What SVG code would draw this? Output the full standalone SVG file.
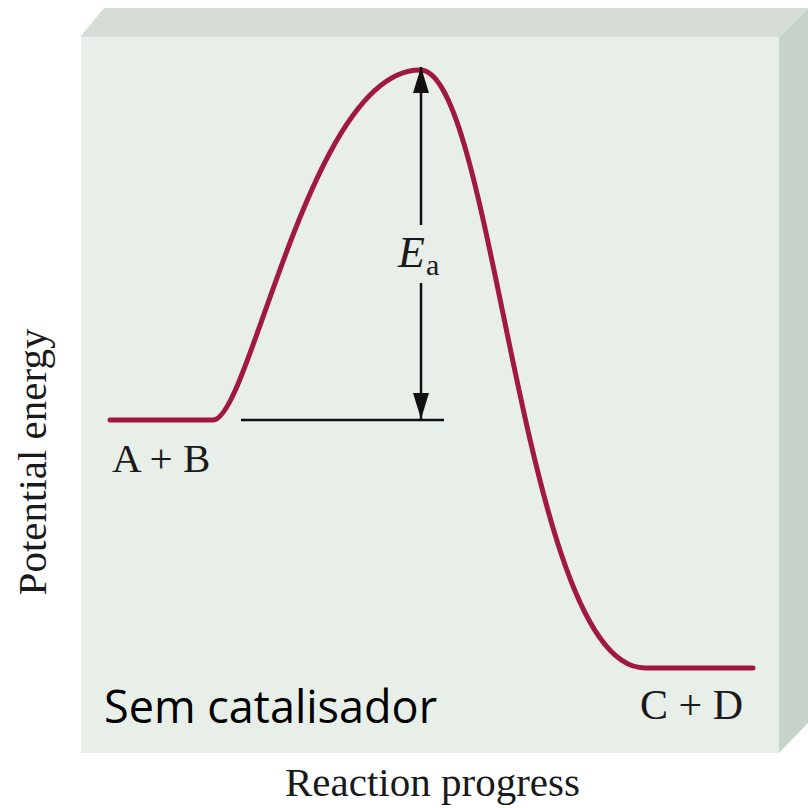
<svg xmlns="http://www.w3.org/2000/svg" width="808" height="808" viewBox="0 0 808 808">
<style>
.serif{font-family:"Liberation Serif","Times New Roman",serif;fill:#1a1a1a}
.sans{font-family:"Open Sans","Liberation Sans",sans-serif;fill:#000}
.curve{fill:none;stroke:#a0193f;stroke-width:5;stroke-linecap:round;stroke-linejoin:round}
.ln{stroke:#111;stroke-width:2.5;fill:none}
</style>
<defs>
<marker id="ahb" viewBox="0 0 26 16" refX="26" refY="8" markerWidth="26" markerHeight="16" markerUnits="userSpaceOnUse" orient="auto">
<path d="M0,0 L26,8 L0,16 Z" fill="#111"/>
</marker>
</defs>
<rect width="808" height="808" fill="#ffffff"/>
<g id="box">
<polygon points="80,37 104,8 808,8 779,37" fill="#d6ddd6"/>
<polygon points="779,37 808,8 808,723 779,753" fill="#c6d4c9"/>
<rect x="81" y="37" width="698" height="716" fill="#e8eee8"/>
</g>
<g id="curve">
<path class="curve" d="M110,420 L213,420 C250,420 310,70 420,70 C495,70 522,668 645,668 L753,668"/>
</g>
<g id="connectors">
<line class="ln" x1="421" y1="225" x2="421" y2="67" marker-end="url(#ahb)"/>
<line class="ln" x1="421" y1="283" x2="421" y2="419" marker-end="url(#ahb)"/>
<line class="ln" x1="241" y1="420" x2="444" y2="420"/>
</g>
<g id="labels">
<text class="serif" x="398" y="267" font-size="44" font-style="italic">E</text>
<text class="serif" x="426" y="275" font-size="30">a</text>
<text class="serif" x="112" y="472" font-size="41">A + B</text>
<text class="serif" x="640" y="719" font-size="42">C + D</text>
<text class="sans" x="104" y="723" font-size="45">Sem catalisador</text>
<text class="serif" x="285" y="796" font-size="41">Reaction progress</text>
<text class="serif" x="0" y="0" font-size="41" text-anchor="middle" transform="translate(46,462) rotate(-90)">Potential energy</text>
</g>
</svg>
